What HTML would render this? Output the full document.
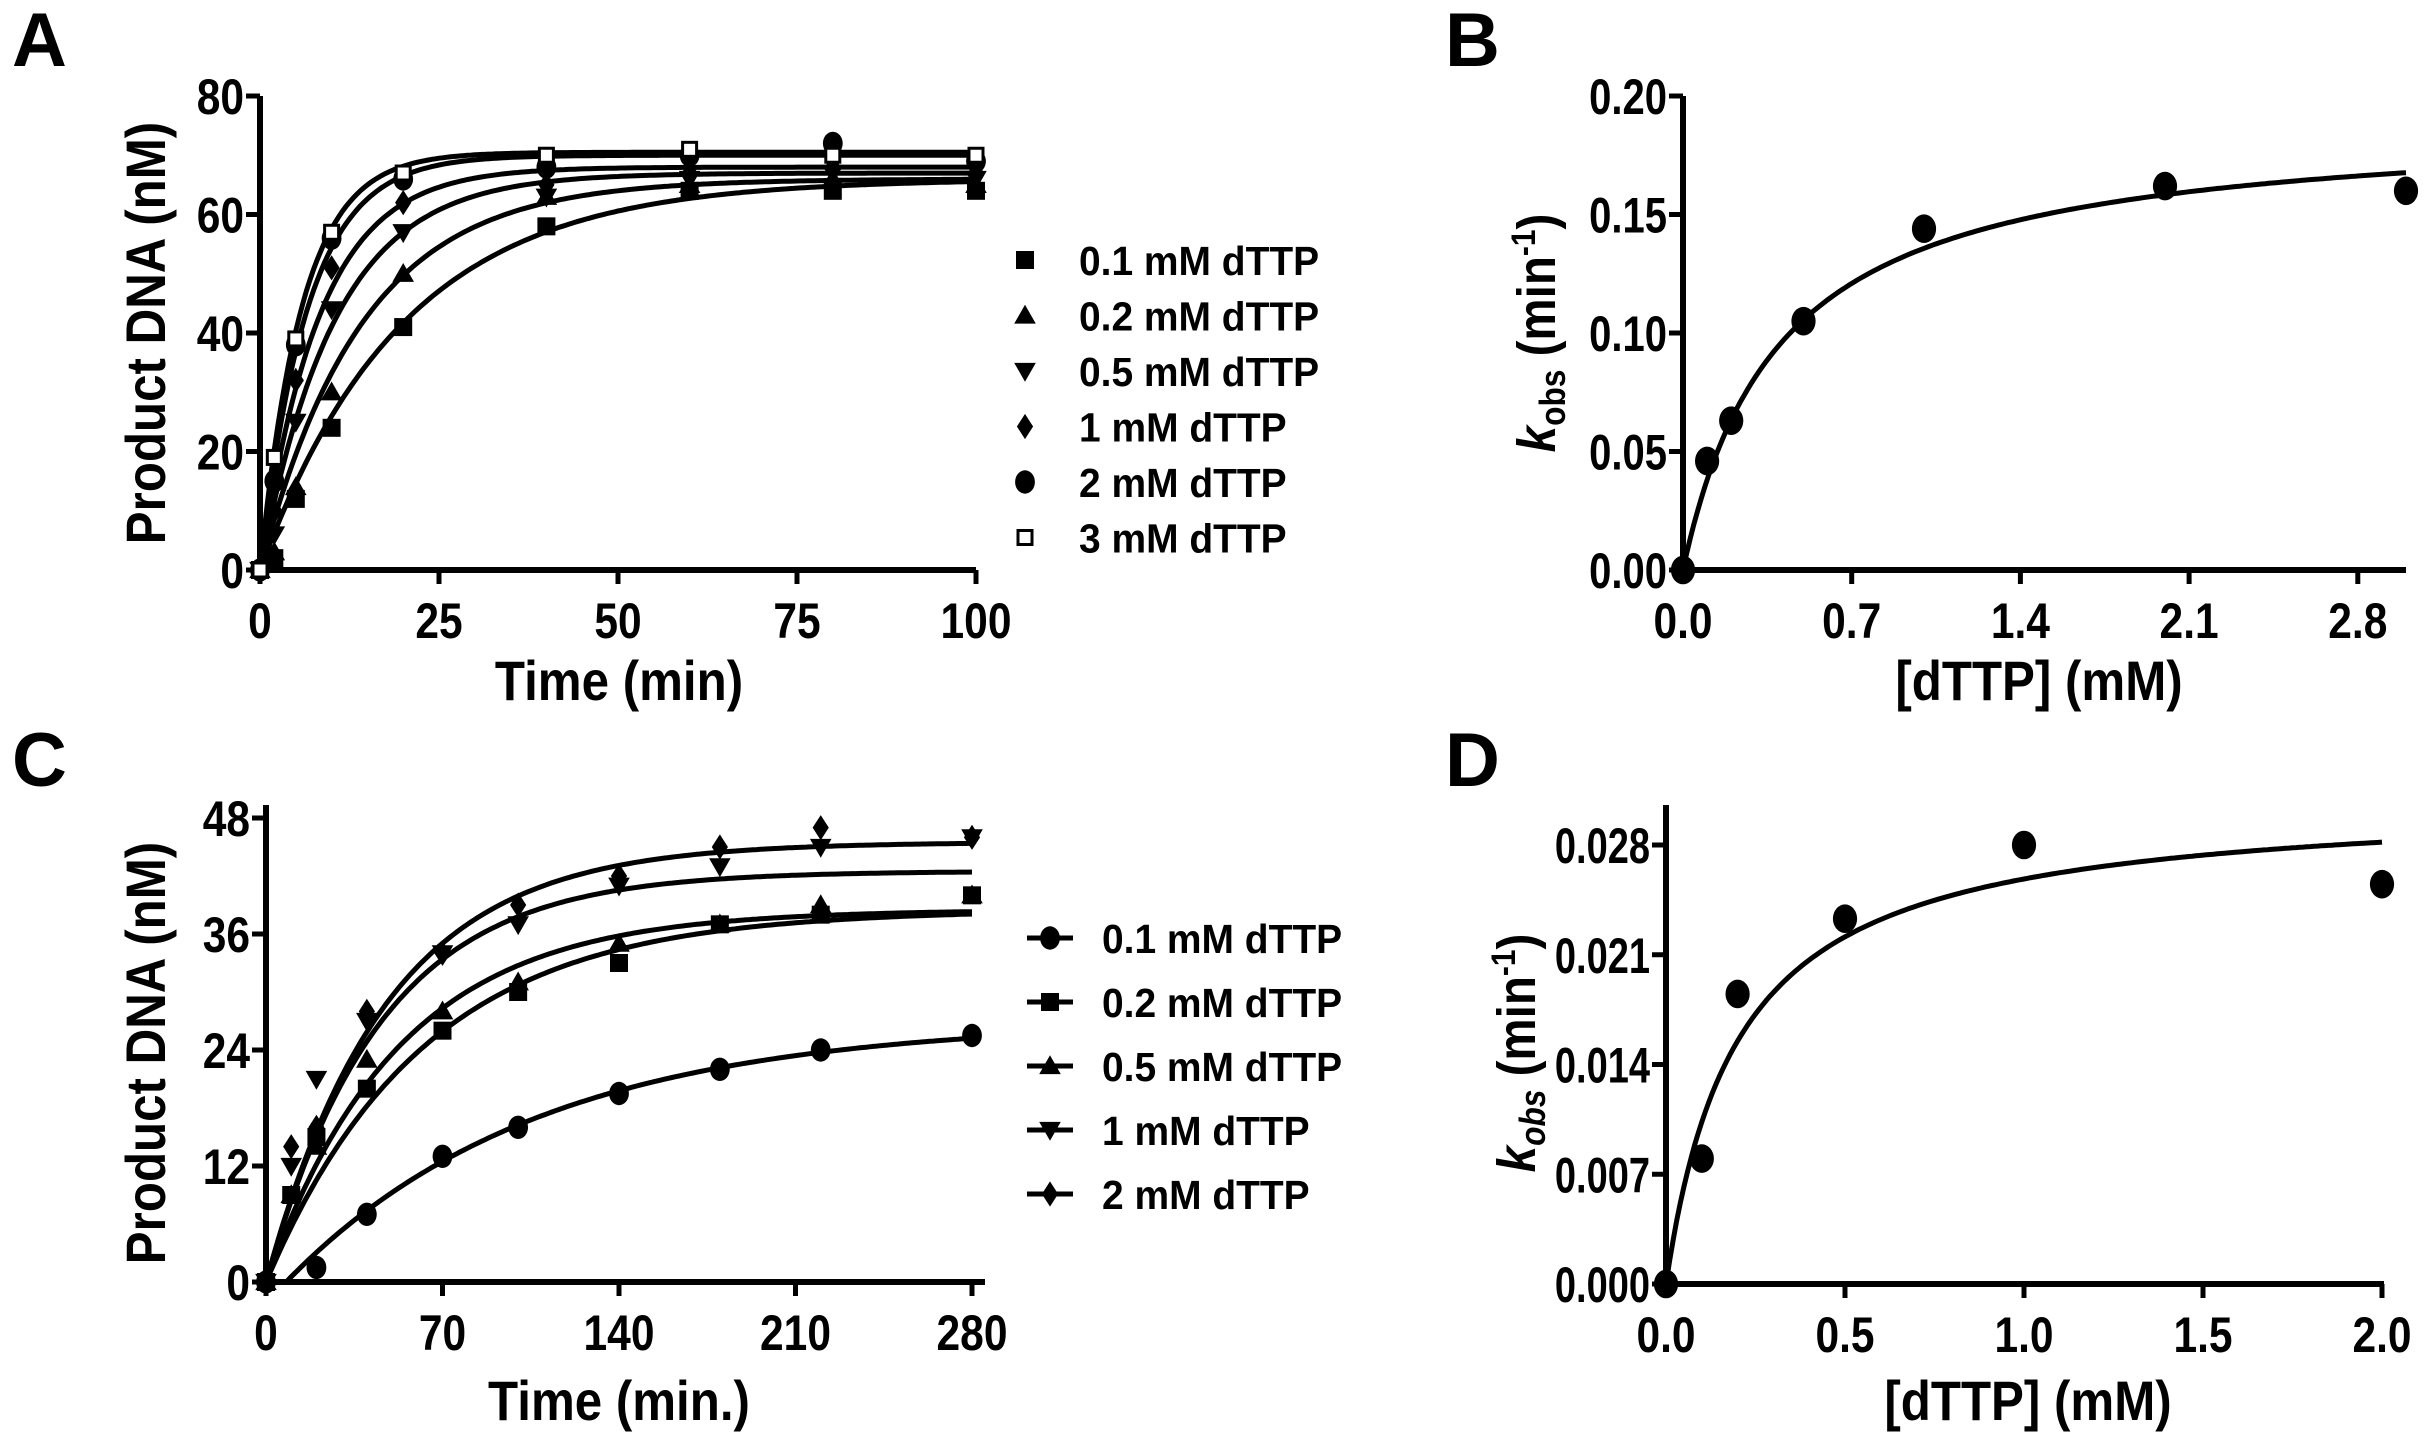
<!DOCTYPE html>
<html><head><meta charset="utf-8"><style>
html,body{margin:0;padding:0;background:#fff}
svg{display:block}
text{font-family:"Liberation Sans",Arial,sans-serif;font-weight:bold;fill:#000}
</style></head><body>
<svg id="fig" width="2428" height="1445" viewBox="0 0 2428 1445" xmlns="http://www.w3.org/2000/svg"></svg>
<script>
// ---- Panel A data ----
const aTimes=[0,2,5,10,20,40,60,80,100];
const aLabels=["0.1 mM dTTP","0.2 mM dTTP","0.5 mM dTTP","1 mM dTTP","2 mM dTTP","3 mM dTTP"];
const aS1=[0,2,12,24,41,58,64,64,64];
const aS2=[0,3,14,30,50,63,65,66,65];
const aS3=[0,6,25,44,57,63,66,67,66];
const aS4=[0,10,32,51,62,65,67,68,67];
const aS5=[0,15,38,56,66,68,70,72,69];
const aS6=[0,19,39,57,67,70,71,70,70];
const aAmp=[66,66,67,68,70,70.5];
const aRate=[0.05,0.07,0.095,0.12,0.15,0.17];
const aXTicks=[0,25,50,75,100];
const aYTicks=[0,20,40,60,80];
// ---- Panel B data ----
const bX=[0,0.1,0.2,0.5,1,2,3];
const bY=[0,0.046,0.063,0.105,0.144,0.162,0.160];
const bFit=[0.19,0.4]; // Vmax, Km
const bXTicks=["0.0","0.7","1.4","2.1","2.8"];
const bYTicks=["0.00","0.05","0.10","0.15","0.20"];
// ---- Panel C data ----
const cTimes=[0,10,20,40,70,100,140,180,220,280];
const cLabels=["0.1 mM dTTP","0.2 mM dTTP","0.5 mM dTTP","1 mM dTTP","2 mM dTTP"];
const cS1=[0,null,1.5,7,13,16,19.5,22,24,25.5];
const cS2=[0,9,15,20,26,30,33,37,38,40];
const cS3=[0,9,14,23,28,31,35,37,39,40];
const cS4=[0,12,21,27,34,37,41,43,45,46];
const cS5=[0,14,16,28,34,39,42,45,47,46];
const cAmp=[27,38.5,38.5,42.5,45.5];
const cRate=[0.01,0.016,0.019,0.022,0.021];
const cDelay=[8,0,0,0,0];
const cXTicks=[0,70,140,210,280];
const cYTicks=[0,12,24,36,48];
// ---- Panel D data ----
const dX=[0,0.1,0.2,0.5,1,2];
const dY=[0,0.008,0.0185,0.0233,0.028,0.0255];
const dFit=[0.031,0.2];
const dXTicks=["0.0","0.5","1.0","1.5","2.0"];
const dYTicks=["0.000","0.007","0.014","0.021","0.028"];

const NS="http://www.w3.org/2000/svg";
const svg=document.getElementById('fig');
function mk(tag,attrs,parent,txt){const e=document.createElementNS(NS,tag);for(const k in attrs)e.setAttribute(k,attrs[k]);if(txt!==undefined)e.textContent=txt;(parent||svg).appendChild(e);return e;}
function grp(name,parent){const g=mk('g',{},parent);return g;}
function txt(parent,s,x,y,size,anchor,sx,rot){
  return mk('text',{x:0,y:0,'text-anchor':anchor,'font-size':size,transform:`translate(${x} ${y})${rot?' rotate(-90)':''} scale(${sx} 1)`},parent,s);
}

function marker(g,type,x,y,s){
  let e;
  if(type==='square') e=mk('rect',{x:x-s/2,y:y-s/2,width:s,height:s,fill:'#000'},g);
  else if(type==='open-square') e=mk('rect',{x:x-s/2+2,y:y-s/2+2,width:s-4,height:s-4,fill:'#fff',stroke:'#000','stroke-width':3},g);
  else if(type==='triangle') e=mk('polygon',{points:`${x},${y-s*0.6} ${x-s*0.6},${y+s*0.45} ${x+s*0.6},${y+s*0.45}`,fill:'#000'},g);
  else if(type==='down-triangle') e=mk('polygon',{points:`${x},${y+s*0.6} ${x-s*0.6},${y-s*0.45} ${x+s*0.6},${y-s*0.45}`,fill:'#000'},g);
  else if(type==='diamond') e=mk('polygon',{points:`${x},${y-s*0.7} ${x+s*0.45},${y} ${x},${y+s*0.7} ${x-s*0.45},${y}`,fill:'#000'},g);
  else e=mk('ellipse',{cx:x,cy:y,rx:s*0.55,ry:s*0.65,fill:'#000'},g);
  
  
  return e;
}

function axes(p,xt,yt,xvals,yvals,name,ysx){
  const g=grp(name+'-axes');
  const top=p.axTop!==undefined?p.axTop:p.y1;
  const xa=mk('line',{x1:p.x0-3,y1:p.y0,x2:p.axRight,y2:p.y0,stroke:'#000','stroke-width':6},g);
  
  const ya=mk('line',{x1:p.x0,y1:p.y0+3,x2:p.x0,y2:top,stroke:'#000','stroke-width':6},g);
  
  xt.forEach((t,i)=>{const x=p.sx(xvals[i]);
    mk('line',{x1:x,y1:p.y0,x2:x,y2:p.y0+14,stroke:'#000','stroke-width':5},g);
    const tx=txt(g,t,x,p.y0+68,50,'middle',0.85);
    });
  yt.forEach((t,i)=>{const y=p.sy(yvals[i]);
    mk('line',{x1:p.x0-14,y1:y,x2:p.x0,y2:y,stroke:'#000','stroke-width':5},g);
    const tx=txt(g,t,p.x0-16,y+18,50,'end',ysx||0.85);
    });
}
function curve(g,f,xa,xb,p){let d='';for(let i=0;i<=200;i++){const x=xa+(xb-xa)*i/200;d+=(i?'L':'M')+p.sx(x).toFixed(1)+','+p.sy(f(x)).toFixed(1);}
  const c=mk('path',{d:d,fill:'none',stroke:'#000','stroke-width':5},g);}
function title(s,x,y,name,rot){const t=txt(svg,s,x,y,56,'middle',0.88,rot);return t;}
function letter(s,x,y){const t=mk('text',{x:x,y:y,'font-size':76,'font-weight':'normal'},svg,s);}
function legendText(g,s,x,y){const t=txt(g,s,x,y,41,'start',0.95);}
function kTitle(x,y,italicSub){
  const t=mk('text',{x:0,y:0,'text-anchor':'middle','font-size':54,transform:`translate(${x} ${y}) rotate(-90) scale(0.88 1)`},svg);
  
  t.innerHTML='<tspan font-style="italic">k</tspan><tspan font-size="36" '+(italicSub?'font-style="italic" ':'')+'dy="10">obs</tspan><tspan dy="-10"> (min</tspan><tspan font-size="34" dy="-20">-1</tspan><tspan dy="20">)</tspan>';
}

// ---- Panel A ----
(function(){
  const p={x0:260,y0:570,y1:96,axRight:976};
  p.sx=v=>p.x0+(v-0)/100*(976-260);
  p.sy=v=>p.y0-(v/80)*(570-96);
  axes(p,aXTicks.map(String),aYTicks.map(String),aXTicks,aYTicks,'panel-a');
  const series=[aS1,aS2,aS3,aS4,aS5,aS6];
  const types=['square','triangle','down-triangle','diamond','circle','open-square'];
  const g=grp('panel-a-series');
  series.forEach((s,k)=>{curve(g,t=>aAmp[k]*(1-Math.exp(-aRate[k]*t)),0,100,p);});
  series.forEach((s,k)=>{s.forEach((v,i)=>{if(v!==null)marker(g,types[k],p.sx(aTimes[i]),p.sy(v),18);});});
  const lg=grp('panel-a-legend');
  aLabels.forEach((l,k)=>{const y=260+k*55.5;marker(lg,types[k],1025,y,18);legendText(lg,l,1079,y+15);});
  title('Time (min)',619,700,'x-axis-title');
  title('Product DNA (nM)',165,333,'y-axis-title',true);
  letter('A',12,66);
})();
// ---- Panel B ----
(function(){
  const p={x0:1683,y0:570,y1:96,axRight:2406};
  p.sx=v=>p.x0+v*241;
  p.sy=v=>p.y0-(v/0.2)*(570-96);
  axes(p,bXTicks,bYTicks,bXTicks.map(Number),bYTicks.map(Number),'panel-b',0.8);
  const g=grp('panel-b-series');
  curve(g,x=>bFit[0]*x/(bFit[1]+x),0,3,p);
  bX.forEach((x,i)=>marker(g,'circle',p.sx(x),p.sy(bY[i]),22));
  kTitle(1555,333,false);
  title('[dTTP] (mM)',2039,700,'x-axis-title');
  letter('B',1445,66);
})();
// ---- Panel C ----
(function(){
  const p={x0:266,y0:1282,y1:818,axTop:805,axRight:985};
  p.sx=v=>p.x0+v/280*(972-266);
  p.sy=v=>p.y0-(v/48)*(1282-818);
  axes(p,cXTicks.map(String),cYTicks.map(String),cXTicks,cYTicks,'panel-c');
  const series=[cS1,cS2,cS3,cS4,cS5];
  const types=['circle','square','triangle','down-triangle','diamond'];
  const g=grp('panel-c-series');
  series.forEach((s,k)=>{curve(g,t=>cAmp[k]*(1-Math.exp(-cRate[k]*Math.max(0,t-cDelay[k]))),0,280,p);});
  series.forEach((s,k)=>{s.forEach((v,i)=>{if(v!==null)marker(g,types[k],p.sx(cTimes[i]),p.sy(v),18);});});
  const lg=grp('panel-c-legend');
  cLabels.forEach((l,k)=>{const y=938+k*64;
    mk('line',{x1:1027,y1:y,x2:1073,y2:y,stroke:'#000','stroke-width':5},lg);
    marker(lg,types[k],1050,y,18);
    legendText(lg,l,1102,y+15);});
  title('Time (min.)',619,1420,'x-axis-title');
  title('Product DNA (nM)',165,1053,'y-axis-title',true);
  letter('C',12,786);
})();
// ---- Panel D ----
(function(){
  const p={x0:1666,y0:1284,y1:845,axTop:805,axRight:2384};
  p.sx=v=>p.x0+v/2*(2382-1666);
  p.sy=v=>p.y0-(v/0.028)*(1284-845);
  axes(p,dXTicks,dYTicks,dXTicks.map(Number),dYTicks.map(Number),'panel-d',0.76);
  const g=grp('panel-d-series');
  curve(g,x=>dFit[0]*x/(dFit[1]+x),0,2,p);
  dX.forEach((x,i)=>marker(g,'circle',p.sx(x),p.sy(dY[i]),22));
  kTitle(1535,1053,true);
  title('[dTTP] (mM)',2028,1420,'x-axis-title');
  letter('D',1445,786);
})();
</script>
</body></html>
